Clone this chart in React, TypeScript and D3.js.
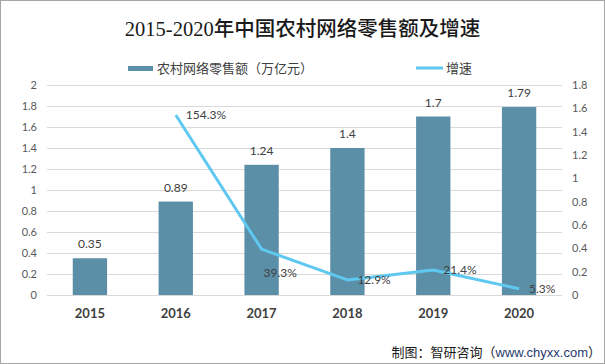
import React, { useEffect, useRef } from "react";
import * as d3 from "d3";

const years = ["2015", "2016", "2017", "2018", "2019", "2020"];
const sales = [0.35, 0.89, 1.24, 1.4, 1.7, 1.79];
const growthYears = ["2016", "2017", "2018", "2019", "2020"];
const growth = [154.3, 39.3, 12.9, 21.4, 5.3];
const leftTicks = [0, 0.2, 0.4, 0.6, 0.8, 1, 1.2, 1.4, 1.6, 1.8, 2];
const rightTicks = [0, 0.2, 0.4, 0.6, 0.8, 1, 1.2, 1.4, 1.6, 1.8];

const W = 605;
const H = 364;
const numFont = "Lato, 'Liberation Sans', 'Noto Sans CJK SC', sans-serif";
const cjkFont = "'Noto Sans CJK SC', sans-serif";

const App = () => {
  const svgRef = useRef<SVGSVGElement>(null);

  useEffect(() => {
    const svg = d3.select(svgRef.current);
    svg.selectAll("*").remove();

    const left = 47;
    const right = 562;
    const top = 85;
    const bottom = 295;

    const x = d3.scaleBand().domain(years).range([left, right]).paddingInner(0.6).paddingOuter(0.3);
    const yL = d3.scaleLinear().domain([0, 2]).range([bottom, top]);
    const yR = d3.scaleLinear().domain([0, 1.8]).range([bottom, top]);

    // 배경 + 테두리
    svg.append("rect").attr("x", 0.5).attr("y", 0.5).attr("width", W - 1).attr("height", H - 1)
      .attr("fill", "#fff").attr("stroke", "#a6a6a6");

    // 제목
    svg.append("text").attr("x", W / 2).attr("y", 36).attr("text-anchor", "middle")
      .style("font-family", "'Liberation Serif', 'DejaVu Serif', 'Noto Sans CJK SC', serif")
      .style("font-size", "20.5px").style("font-weight", "500").attr("fill", "#1a1a1a")
      .text("2015-2020年中国农村网络零售额及增速");

    // 그리드
    svg.append("g").selectAll("line").data(leftTicks).join("line")
      .attr("x1", left).attr("x2", right)
      .attr("y1", (d) => Math.round(yL(d)) + 0.5).attr("y2", (d) => Math.round(yL(d)) + 0.5)
      .attr("stroke", "#d9d9d9").attr("stroke-width", 1);

    // 왼쪽 축
    svg.append("g").selectAll("text").data(leftTicks).join("text")
      .attr("x", 37).attr("y", (d) => yL(d)).attr("dy", "0.35em").attr("text-anchor", "end")
      .style("font-family", numFont).style("font-size", "11px").attr("fill", "#595959")
      .text((d) => String(d));

    // 오른쪽 축
    svg.append("g").selectAll("text").data(rightTicks).join("text")
      .attr("x", 572).attr("y", (d) => yR(d)).attr("dy", "0.35em").attr("text-anchor", "start")
      .style("font-family", numFont).style("font-size", "11px").attr("fill", "#595959")
      .text((d) => String(d));

    // 막대
    svg.append("g").selectAll("rect").data(sales).join("rect")
      .attr("x", (_, i) => x(years[i])!).attr("width", x.bandwidth())
      .attr("y", (d) => yL(d)).attr("height", (d) => bottom - yL(d))
      .attr("fill", "#5b8fa8");

    svg.append("g").selectAll("text").data(sales).join("text")
      .attr("x", (_, i) => x(years[i])! + x.bandwidth() / 2).attr("y", (d) => yL(d) - 14)
      .attr("dy", "0.35em").attr("text-anchor", "middle")
      .style("font-family", numFont).style("font-size", "12px").attr("fill", "#404040")
      .text((d) => String(d));

    // x축 라벨
    svg.append("g").selectAll("text").data(years).join("text")
      .attr("x", (d) => x(d)! + x.bandwidth() / 2).attr("y", 313).attr("dy", "0.35em")
      .attr("text-anchor", "middle")
      .style("font-family", numFont).style("font-size", "13px").style("font-weight", "bold")
      .attr("fill", "#404040").text((d) => d);

    // 증속 선
    const cx = (i: number) => x(growthYears[i])! + x.bandwidth() / 2;
    const cy = (v: number) => yR(v / 100);
    const line = d3.line<number>().x((_, i) => cx(i)).y((d) => cy(d));
    svg.append("path").datum(growth).attr("d", line)
      .attr("fill", "none").attr("stroke", "#5fc8f0").attr("stroke-width", 3)
      .attr("stroke-linejoin", "round");

    svg.append("g").selectAll("text").data(growth).join("text")
      .attr("x", (_, i) => (i === 1 ? cx(i) + 2 : cx(i) + 10))
      .attr("y", (d, i) => (i === 1 ? cy(d) + 24 : cy(d)))
      .attr("dy", "0.35em").attr("text-anchor", "start")
      .style("font-family", numFont).style("font-size", "12px").attr("fill", "#404040")
      .text((d) => d + "%");

    // 범례
    svg.append("rect").attr("x", 128).attr("y", 66).attr("width", 25).attr("height", 5).attr("fill", "#5b8fa8");
    svg.append("text").attr("x", 157).attr("y", 68).attr("dy", "0.35em")
      .style("font-family", cjkFont).style("font-size", "13px").attr("fill", "#404040")
      .text("农村网络零售额（万亿元）");
    svg.append("line").attr("x1", 416).attr("x2", 443).attr("y1", 68).attr("y2", 68)
      .attr("stroke", "#5fc8f0").attr("stroke-width", 3);
    svg.append("text").attr("x", 446).attr("y", 68).attr("dy", "0.35em")
      .style("font-family", cjkFont).style("font-size", "13px").attr("fill", "#404040")
      .text("增速");

    // 출처
    const src = svg.append("text").attr("x", 601).attr("y", 352).attr("dy", "0.35em")
      .attr("text-anchor", "end")
      .style("font-family", cjkFont).style("font-size", "13px").attr("fill", "#1a1a1a");
    src.append("tspan").text("制图：智研咨询（");
    src.append("tspan").attr("fill", "#1f3a6e").style("font-family", "'Liberation Sans', sans-serif").text("www.chyxx.com");
    src.append("tspan").text("）");
  }, []);

  return (
    <div style={{ position: "absolute", left: 0, top: 0, width: W, height: H }}>
      <svg ref={svgRef} width={W} height={H} style={{ display: "block" }}></svg>
    </div>
  );
};

export default App;
